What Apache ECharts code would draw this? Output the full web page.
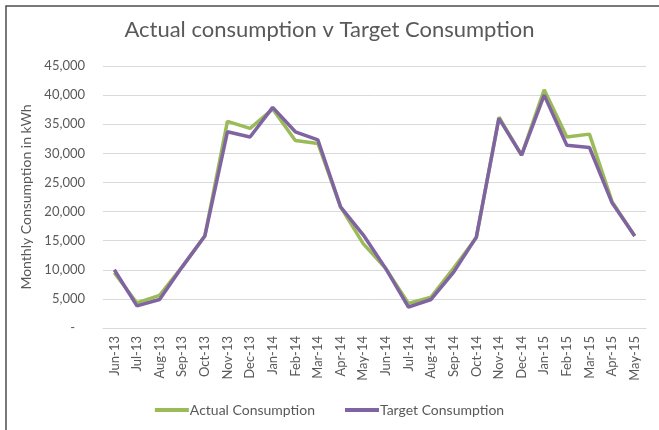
<!DOCTYPE html>
<html>
<head>
<meta charset="utf-8">
<script src="https://cdn.jsdelivr.net/npm/echarts@6/dist/echarts.min.js"></script>
<style>
  html, body { margin: 0; padding: 0; background: #fff; }
  #chart { width: 659px; height: 430px; }
</style>
</head>
<body>
<div id="chart"></div>
<script>
// months on the x axis
const months = [
  "Jun-13", "Jul-13", "Aug-13", "Sep-13", "Oct-13", "Nov-13", "Dec-13", "Jan-14",
  "Feb-14", "Mar-14", "Apr-14", "May-14", "Jun-14", "Jul-14", "Aug-14", "Sep-14",
  "Oct-14", "Nov-14", "Dec-14", "Jan-15", "Feb-15", "Mar-15", "Apr-15", "May-15"
];

// kWh
const actual = [
  9500, 4300, 5600, 10500, 15800, 35500, 34300, 37600,
  32200, 31700, 20800, 14500, 10200, 4200, 5300, 10300,
  15500, 36200, 29700, 40900, 32800, 33300, 21700, 15800
];
const target = [
  10000, 3800, 4900, 10500, 15800, 33700, 32800, 37900,
  33700, 32300, 20800, 16000, 10200, 3600, 4900, 9600,
  15600, 36000, 29700, 40000, 31400, 31000, 21500, 15800
];

const fmt = (v) => (v === 0 ? "-   " : new Intl.NumberFormat("en-US").format(v));

const chart = echarts.init(document.getElementById("chart"));
chart.setOption({
  animation: false,
  textStyle: { fontFamily: "Lato, 'Open Sans', sans-serif" },
  title: {
    text: "Actual consumption v Target Consumption",
    left: "center",
    top: 14,
    textStyle: { fontSize: 22, fontWeight: "normal", color: "#595959", fontFamily: "Lato" }
  },
  graphic: [
    {
      type: "polyline",
      shape: { points: [[6, 430], [6, 6], [659, 6]] },
      style: { stroke: "#4d4d4d", lineWidth: 1.5, fill: null }
    }
  ],
  legend: {
    bottom: 8,
    left: "center",
    itemWidth: 34,
    itemHeight: 4,
    itemGap: 30,
    icon: "rect",
    textStyle: { fontSize: 14, color: "#595959", padding: [0, 0, 0, -4] },
    data: ["Actual Consumption", "Target Consumption"]
  },
  grid: { left: 103, right: 13, top: 66, bottom: 102 },
  xAxis: {
    type: "category",
    data: months,
    boundaryGap: true,
    axisLine: { lineStyle: { color: "#d9d9d9" } },
    axisTick: { show: false },
    axisLabel: { rotate: 90, color: "#595959", fontSize: 13, margin: 8, interval: 0 }
  },
  yAxis: {
    type: "value",
    min: 0,
    max: 45000,
    interval: 5000,
    name: "Monthly Consumption in kWh",
    nameLocation: "middle",
    nameGap: 70,
    nameTextStyle: { fontSize: 14, color: "#595959" },
    axisLine: { show: false },
    axisTick: { show: false },
    axisLabel: { color: "#595959", fontSize: 13, margin: 18, formatter: fmt },
    splitLine: { lineStyle: { color: "#d9d9d9" } }
  },
  series: [
    {
      name: "Actual Consumption",
      type: "line",
      data: actual,
      symbol: "none",
      color: "#9bbb59",
      lineStyle: { width: 3.5 }
    },
    {
      name: "Target Consumption",
      type: "line",
      data: target,
      symbol: "none",
      color: "#8064a2",
      lineStyle: { width: 3.5 }
    }
  ]
});
</script>
</body>
</html>
